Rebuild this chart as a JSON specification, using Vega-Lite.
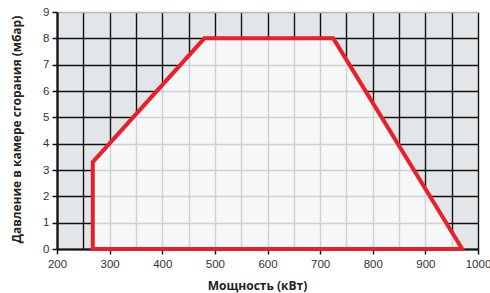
{
  "$schema": "https://vega.github.io/schema/vega-lite/v6.json",
  "width": 421,
  "height": 237,
  "autosize": {"type": "none"},
  "padding": {"left": 57, "top": 12, "right": 12, "bottom": 44},
  "background": "white",
  "config": {
    "view": {"fill": "#e3e6e9", "stroke": null},
    "axis": {
      "labelFont": "Liberation Sans",
      "labelFontSize": 11.5,
      "labelColor": "#333333",
      "labelFlush": false,
      "labelOverlap": false,
      "titleFont": "Open Sans",
      "titleFontWeight": "bold",
      "titleFontSize": 12,
      "titleColor": "#222222",
      "domainColor": "#111111",
      "domainWidth": 2.2,
      "tickColor": "#111111",
      "tickWidth": 1.5,
      "tickSize": 5,
      "gridWidth": 1.4
    }
  },
  "datasets": {
    "outline": [
      {"kw": 268, "mbar": 0, "ord": 0},
      {"kw": 268, "mbar": 3.3, "ord": 1},
      {"kw": 480, "mbar": 8, "ord": 2},
      {"kw": 725, "mbar": 8, "ord": 3},
      {"kw": 970, "mbar": 0, "ord": 4},
      {"kw": 268, "mbar": 0, "ord": 5}
    ],
    "region": [
      {"kw": 268, "mbar": 3.3, "base": 0},
      {"kw": 480, "mbar": 8, "base": 0},
      {"kw": 725, "mbar": 8, "base": 0},
      {"kw": 970, "mbar": 0, "base": 0}
    ]
  },
  "encoding": {
    "x": {
      "field": "kw",
      "type": "quantitative",
      "scale": {"domain": [200, 1000], "nice": false, "zero": false},
      "axis": {
        "title": "Мощность (кВт)",
        "values": [200, 250, 300, 350, 400, 450, 500, 550, 600, 650, 700, 750, 800, 850, 900, 950, 1000],
        "labelExpr": "datum.value % 100 === 0 ? '' + datum.value : ''",
        "tickOpacity": {"condition": {"test": "datum.value % 100 === 0", "value": 1}, "value": 0},
        "gridColor": "#111111",
        "labelPadding": 4,
        "titleX": 200,
        "titleY": 40,
        "titleBaseline": "alphabetic"
      }
    },
    "y": {
      "field": "mbar",
      "type": "quantitative",
      "scale": {"domain": [0, 9], "nice": false},
      "axis": {
        "title": "Давление в камере сгорания (мбар)",
        "values": [0, 1, 2, 3, 4, 5, 6, 7, 8, 9],
        "gridColor": {"condition": {"test": "datum.value === 9", "value": "#b8b8b8"}, "value": "#111111"},
        "labelPadding": 3,
        "titleX": -41,
        "titleY": 117,
        "titleBaseline": "middle",
        "titleAlign": "center"
      }
    }
  },
  "layer": [
    {
      "data": {"name": "region"},
      "mark": {"type": "area", "color": "#f9fafb", "fillOpacity": 0.82, "interpolate": "linear"},
      "encoding": {
        "y2": {"field": "base"}
      }
    },
    {
      "data": {"name": "outline"},
      "mark": {"type": "line", "color": "#e8202a", "strokeWidth": 4, "strokeJoin": "miter", "strokeCap": "square"},
      "encoding": {
        "order": {"field": "ord"}
      }
    }
  ]
}
